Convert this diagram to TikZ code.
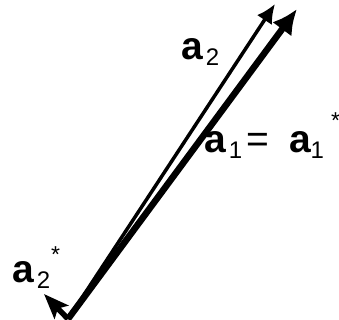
\documentclass[tikz,border=0pt]{standalone}
\usepackage{fontspec}
\setmainfont{Liberation Sans}
\usetikzlibrary{arrows.meta}
\newcommand\bigA{{\fontsize{39}{39}\selectfont\bfseries a}}
\newcommand\vsub[1]{\raisebox{-6pt}{\fontsize{24}{24}\selectfont #1}}
\newcommand\vstar[1]{\raisebox{#1}{\fontsize{23}{23}\selectfont *}}
\tikzset{
  vecone/.style = {line width=6.5pt, -{Latex[length=25pt,width=24pt]}},
  vectwo/.style = {line width=3.5pt, -{Latex[length=19pt,width=18pt]}},
  vecstar/.style= {line width=5.5pt, -{Stealth[length=25pt,width=19pt,inset=5pt]}},
  lbl/.style    = {anchor=base west, inner sep=0pt, font=\fontsize{39}{39}\selectfont},
}
\begin{document}
\begin{tikzpicture}[x=1pt, y=-1pt]
\useasboundingbox (0,0) rectangle (339,320);

% --- lattice vectors ---
\coordinate (o) at (68,319);
\coordinate (tone) at (297,9);
\coordinate (ttwo) at (275,4);
\coordinate (tstar) at (44,294);

\draw[vecone] (o) -- (tone);
\draw[vectwo] (o) -- (ttwo);
\draw[vecstar] (o) -- (tstar);

% --- labels ---
\node[lbl] (lbltwo) at (181,60) {\bigA\hspace{3pt}\vsub{2}};
\node[lbl] (lblone) at (204,153)
     {\bigA\hspace{3pt}\vsub{1}\hspace{4pt}=\hspace{20pt}\bigA\vsub{1}\hspace{7pt}\vstar{24pt}};
\node[lbl] (lblstar) at (12,282) {\bigA\hspace{3pt}\vsub{2}\hspace{1pt}\vstar{20pt}};
\end{tikzpicture}
\end{document}
